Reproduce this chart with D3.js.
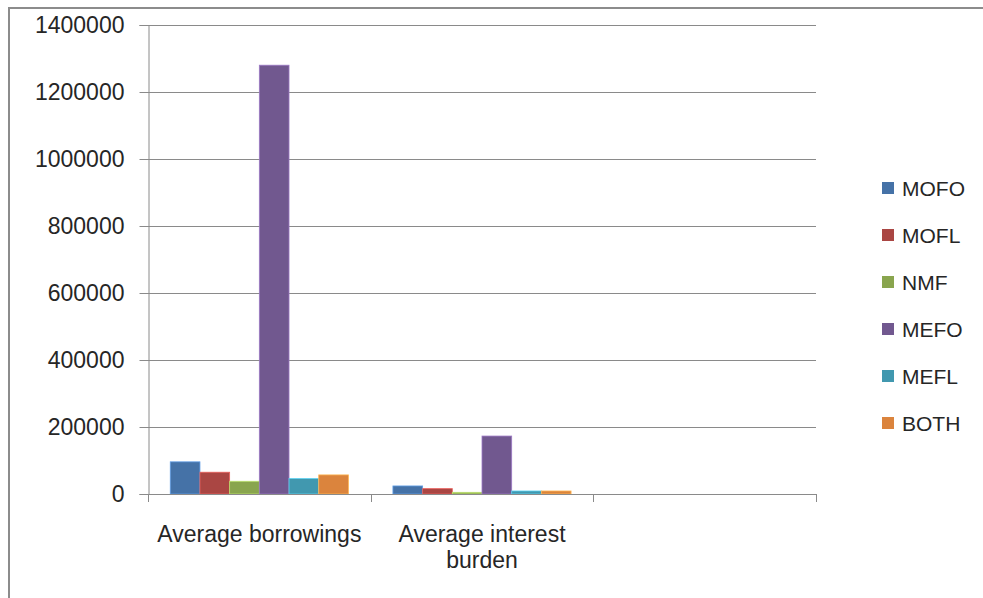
<!DOCTYPE html>
<html>
<head>
<meta charset="utf-8">
<script src="https://cdn.jsdelivr.net/npm/d3@7"></script>
<style>
  html, body { margin: 0; padding: 0; background: #fff; }
  svg { display: block; font-family: "Liberation Sans", Arial, sans-serif; }
</style>
</head>
<body>
<svg id="chart" width="983" height="598"></svg>
<script>
// Categories along the x axis (the third slot is an empty category)
const categories = ["Average borrowings", "Average interest burden", ""];
// Series names, in legend order
const seriesNames = ["MOFO", "MOFL", "NMF", "MEFO", "MEFL", "BOTH"];
const seriesColors = ["#4572A7", "#AA4643", "#89A54E", "#71588F", "#4198AF", "#DB843D"];
// Values per series, one per category (null = no data)
const MOFO = [96000, 24000, null];
const MOFL = [65000, 16000, null];
const NMF  = [38000, 5000, null];
const MEFO = [1280000, 173000, null];
const MEFL = [46000, 9000, null];
const BOTH = [57000, 9000, null];
const seriesValues = [MOFO, MOFL, NMF, MEFO, MEFL, BOTH];
// Y axis tick values
const yTicks = [0, 200000, 400000, 600000, 800000, 1000000, 1200000, 1400000];

const svg = d3.select("#chart");

// outer chart frame
svg.append("rect")
  .attr("x", 9).attr("y", 8)
  .attr("width", 1100).attr("height", 700)
  .attr("fill", "none")
  .attr("stroke", "#8c8c8c")
  .attr("stroke-width", 2);

const plot = { left: 148, right: 816, top: 25, bottom: 494 };

const y = d3.scaleLinear().domain([0, 1400000]).range([plot.bottom, plot.top]);
const x0 = d3.scaleBand().domain(categories.map((c, i) => i)).range([plot.left, plot.right]).padding(0);
const x1 = d3.scaleBand().domain(seriesNames).range([0, x0.bandwidth()])
  .paddingInner(0).paddingOuter(0.75);

// horizontal gridlines
svg.append("g")
  .selectAll("line")
  .data(yTicks.filter(t => t > 0))
  .join("line")
  .attr("x1", plot.left).attr("x2", plot.right)
  .attr("y1", d => Math.round(y(d)) + 0.5).attr("y2", d => Math.round(y(d)) + 0.5)
  .attr("stroke", "#8a8a8a").attr("stroke-width", 1);

// bars
const rows = [];
seriesNames.forEach((s, si) => {
  seriesValues[si].forEach((v, ci) => {
    if (v != null) rows.push({ series: s, color: seriesColors[si], ci, v });
  });
});
svg.append("g")
  .selectAll("rect")
  .data(rows)
  .join("rect")
  .attr("x", d => x0(d.ci) + x1(d.series))
  .attr("width", x1.bandwidth())
  .attr("y", d => y(d.v))
  .attr("height", d => y(0) - y(d.v))
  .attr("fill", d => d.color)
  .attr("stroke", d => d3.color(d.color).brighter(0.9))
  .attr("stroke-width", 0.8);

// y axis
const yAxis = svg.append("g")
  .attr("transform", `translate(${plot.left + 0.5},0)`)
  .call(d3.axisLeft(y).tickValues(yTicks).tickFormat(d3.format("d")).tickSize(9).tickPadding(15));
yAxis.select(".domain").attr("stroke", "#8a8a8a");
yAxis.selectAll(".tick line").attr("stroke", "#8a8a8a");
yAxis.selectAll(".tick text")
  .attr("fill", "#262626")
  .style("font-family", "'Liberation Sans', Arial, sans-serif")
  .style("font-size", "23px");

// x axis: baseline with ticks at category boundaries
const xAxisG = svg.append("g");
xAxisG.append("line")
  .attr("x1", plot.left).attr("x2", plot.right)
  .attr("y1", plot.bottom + 0.5).attr("y2", plot.bottom + 0.5)
  .attr("stroke", "#8a8a8a");
const boundaries = categories.map((c, i) => x0(i)).concat([plot.right]);
xAxisG.selectAll("line.tk")
  .data(boundaries)
  .join("line")
  .attr("class", "tk")
  .attr("x1", d => Math.round(d) + 0.5).attr("x2", d => Math.round(d) + 0.5)
  .attr("y1", plot.bottom).attr("y2", plot.bottom + 8)
  .attr("stroke", "#8a8a8a");

// category labels, wrapped to the category width
function wrapWords(text, maxWidth, fontSize) {
  const probe = svg.append("text").style("font-size", fontSize + "px");
  const words = text.split(" ");
  const lines = [];
  let line = "";
  words.forEach(w => {
    const test = line ? line + " " + w : w;
    probe.text(test);
    if (probe.node().getComputedTextLength() > maxWidth && line) {
      lines.push(line);
      line = w;
    } else {
      line = test;
    }
  });
  if (line) lines.push(line);
  probe.remove();
  return lines;
}
categories.forEach((c, i) => {
  if (!c) return;
  const lines = wrapWords(c, x0.bandwidth() - 8, 23);
  const t = svg.append("text")
    .attr("x", x0(i) + x0.bandwidth() / 2)
    .attr("y", 542)
    .attr("text-anchor", "middle")
    .attr("fill", "#262626")
    .style("font-size", "23px");
  lines.forEach((ln, li) => {
    t.append("tspan")
      .attr("x", x0(i) + x0.bandwidth() / 2)
      .attr("dy", li === 0 ? 0 : 26)
      .text(ln);
  });
});

// legend
const legend = svg.append("g");
const legendY = d3.scalePoint().domain(seriesNames).range([188, 423]);
seriesNames.forEach((s, i) => {
  legend.append("rect")
    .attr("x", 882).attr("y", legendY(s) - 6)
    .attr("width", 12).attr("height", 12)
    .attr("fill", seriesColors[i]);
  legend.append("text")
    .attr("x", 902).attr("y", legendY(s) + 8)
    .attr("fill", "#262626")
    .style("font-size", "21px")
    .text(s);
});
</script>
</body>
</html>
